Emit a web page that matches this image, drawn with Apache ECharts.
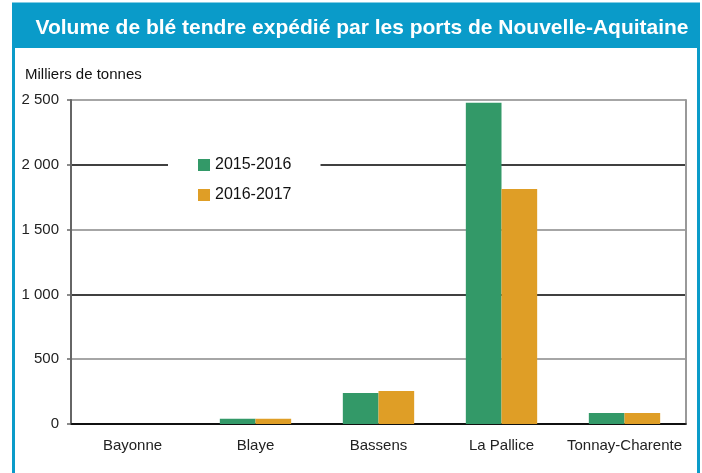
<!DOCTYPE html>
<html>
<head>
<meta charset="utf-8">
<script src="https://cdn.jsdelivr.net/npm/echarts@6/dist/echarts.min.js"></script>
<style>
  html, body { margin: 0; padding: 0; background: #fff; }
  #main { width: 702px; height: 473px; }
</style>
</head>
<body>
<div id="main"></div>
<script>
// données (milliers de tonnes)
var ports = ['Bayonne', 'Blaye', 'Bassens', 'La Pallice', 'Tonnay-Charente']
var campagnes = ['2015-2016', '2016-2017']
var vol2015 = [0, 40, 240, 2478, 85]
var vol2016 = [0, 40, 255, 1813, 85]
var yTicks = [0, 500, 1000, 1500, 2000, 2500]

var bleu = '#0a9bc9'
var chart = echarts.init(document.getElementById('main'))

var option = {
  animation: false,
  textStyle: { fontFamily: 'Liberation Sans' },
  title: [
    {
      text: 'Volume de blé tendre expédié par les ports de Nouvelle-Aquitaine',
      left: 357, top: 13, textAlign: 'center',
      textStyle: { color: '#fff', fontSize: 21, fontWeight: 'bold', fontFamily: 'Liberation Sans' }
    },
    {
      text: 'Milliers de tonnes',
      left: 20, top: 62,
      textStyle: { color: '#111', fontSize: 15, fontWeight: 'normal', fontFamily: 'Liberation Sans' }
    }
  ],
  // cadre bleu + bandeau du titre
  graphic: [
    { type: 'rect', shape: { x: 12, y: 3, width: 688, height: 45 }, style: { fill: bleu }, z: -1 },
    { type: 'rect', shape: { x: 13.5, y: 4, width: 685, height: 480 }, style: { fill: null, stroke: bleu, lineWidth: 3 }, z: -1 }
  ],
  legend: {
    data: campagnes,
    orient: 'vertical',
    left: 168, top: 151,
    padding: [5, 29, 5, 30],
    backgroundColor: '#fff',
    icon: 'rect',
    itemWidth: 12, itemHeight: 12,
    itemGap: 12,
    textStyle: { fontSize: 16, color: '#111', lineHeight: 18 },
    z: 5
  },
  grid: { left: 71, right: 16, top: 100, bottom: 49 },
  xAxis: {
    type: 'category',
    data: ports,
    axisLine: { lineStyle: { color: '#000', width: 1.5 } },
    axisTick: { length: 6, lineStyle: { color: '#555', width: 1.5 } },
    axisLabel: { fontSize: 15, color: '#222', margin: 14, interval: 0 }
  },
  yAxis: [
    {
      type: 'value',
      min: 0, max: 2500, interval: 500,
      axisLine: { show: true, lineStyle: { color: '#666', width: 2 } },
      axisTick: { show: true, length: 4, lineStyle: { color: '#666', width: 1.5 } },
      axisLabel: {
        fontSize: 15, color: '#222', margin: 12,
        formatter: function (v) {
          return yTicks.indexOf(v) >= 0 ? String(v).replace(/\B(?=(\d{3})+(?!\d))/g, ' ') : ''
        }
      },
      splitLine: { lineStyle: { color: ['#000', '#888'], width: 1.5 } }
    },
    {
      type: 'value',
      position: 'right',
      min: 0, max: 2500, interval: 500,
      axisLine: { show: true, lineStyle: { color: '#999', width: 2 } },
      axisTick: { show: false },
      axisLabel: { show: false },
      splitLine: { show: false }
    }
  ],
  series: [
    {
      name: campagnes[0], type: 'bar', data: vol2015,
      itemStyle: { color: '#339968' },
      barGap: '0%', barCategoryGap: '42%'
    },
    {
      name: campagnes[1], type: 'bar', data: vol2016,
      itemStyle: { color: '#df9e26' },
      barGap: '0%', barCategoryGap: '42%'
    }
  ]
}
chart.setOption(option)
</script>
</body>
</html>
